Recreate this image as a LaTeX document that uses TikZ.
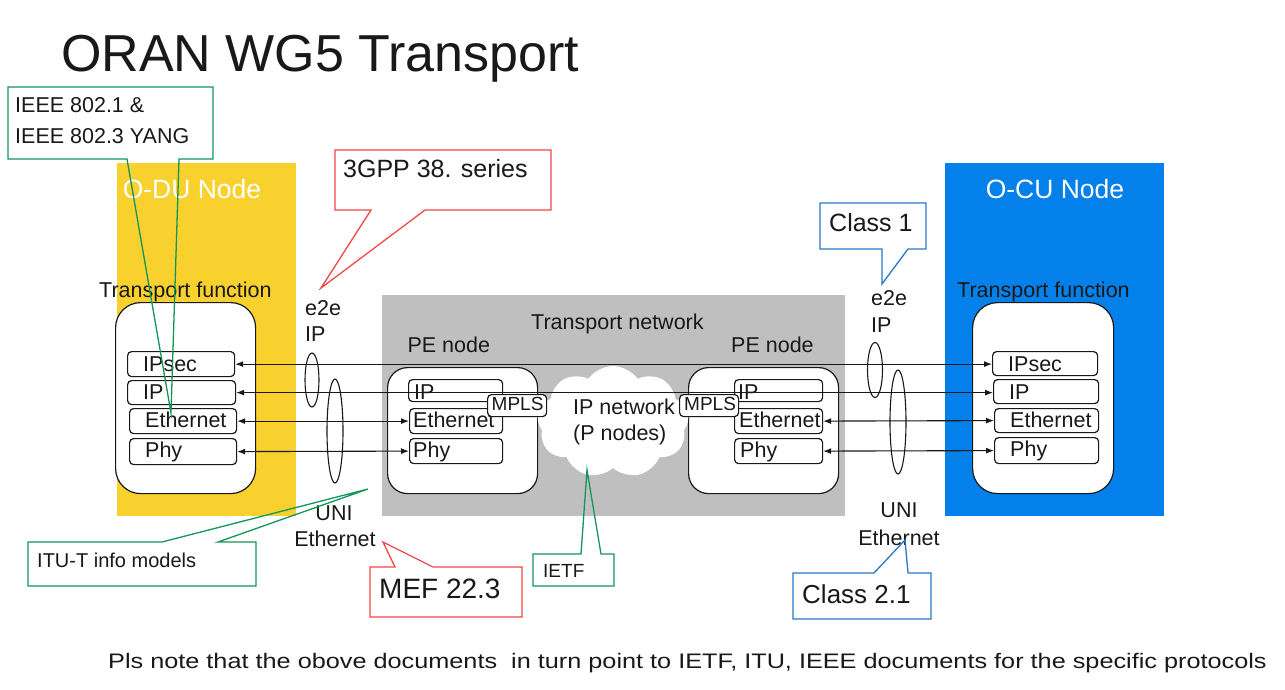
\documentclass[tikz,border=0pt]{standalone}
\usepackage{fontspec}
\setmainfont{Liberation Sans}
\usetikzlibrary{arrows.meta,shapes.symbols,shapes.geometric,calc}
\definecolor{odu}{RGB}{248,209,46}
\definecolor{ocu}{RGB}{4,128,234}
\definecolor{tgray}{RGB}{191,191,191}
\definecolor{cgreen}{RGB}{18,150,90}
\definecolor{cred}{RGB}{240,72,72}
\definecolor{cblue}{RGB}{40,120,200}
\definecolor{ink}{RGB}{25,25,25}
\tikzset{
  lbl/.style={anchor=base west, inner sep=0pt, text=ink},
  clbl/.style={anchor=base, inner sep=0pt, text=ink},
  area/.style={inner sep=0pt, anchor=north west, draw=none},
  layer/.style={draw=ink, line width=1.2pt, rounded corners=4pt, fill=white, inner sep=0pt, anchor=north west},
  bigbox/.style={draw=ink, line width=1.2pt, rounded corners=22pt, fill=white, inner sep=0pt, anchor=north west},
  arr/.style={<->, >={Latex[length=8pt,width=6pt]}, line width=1.1pt, draw=ink},
  ring/.style={ellipse, draw=ink, line width=1.1pt, inner sep=0pt},
  callg/.style={draw=cgreen, line width=1.3pt},
  callr/.style={draw=cred, line width=1.3pt},
  callb/.style={draw=cblue, line width=1.3pt},
}
\begin{document}
\begin{tikzpicture}[x=1pt,y=-1pt,font=\fontsize{21.5}{26}\selectfont]
\useasboundingbox (0,0) rectangle (1285,690);
\fill[white] (0,0) rectangle (1285,690);

% title
\node[lbl, font=\fontsize{52}{60}\selectfont] (title) at (61,72) {ORAN WG5 Transport};

% big areas
\node[area, fill=odu, minimum width=179pt, minimum height=353pt] (odu) at (117,163) {};
\node[area, fill=ocu, minimum width=219pt, minimum height=353pt] (ocu) at (945,163) {};
\node[area, fill=tgray, minimum width=463pt, minimum height=221pt] (tnet) at (382,295) {};

\node[clbl, text=white, font=\fontsize{26.5}{30}\selectfont] (odulbl) at (192,198.5) {O-DU Node};
\node[clbl, text=white, font=\fontsize{26.5}{30}\selectfont] (oculbl) at (1055,198.5) {O-CU Node};

\node[lbl] (tfl) at (99,297) {Transport function};
\node[lbl] (tfr) at (957,297) {Transport function};
\node[lbl] (tnl) at (531,329.3) {Transport network};
\node[lbl] (pell) at (407.3,352.7) {PE node};
\node[lbl] (pelr) at (731,352.7) {PE node};

% transport function boxes
\node[bigbox, rounded corners=25pt, minimum width=140pt, minimum height=191pt] (tfboxl) at (115,302) {};
\node[bigbox, rounded corners=25pt, minimum width=141pt, minimum height=191pt] (tfboxr) at (972,302) {};
% PE boxes
\node[bigbox, rounded corners=20pt, minimum width=150pt, minimum height=126pt] (pebl) at (387,367) {};
\node[bigbox, rounded corners=20pt, minimum width=150pt, minimum height=126pt] (pebr) at (688,367) {};

% left TF layers
\node[layer, minimum width=107pt, minimum height=25pt] (lipsec) at (127,351) {};
\node[layer, minimum width=108pt, minimum height=24pt] (lip) at (127,380) {};
\node[layer, minimum width=107pt, minimum height=25pt] (leth) at (129,408) {};
\node[layer, minimum width=107pt, minimum height=26pt] (lphy) at (129,438) {};
\node[lbl] (tlipsec) at (143,371) {IPsec};
\node[lbl] (tlip) at (143,399) {IP};
\node[lbl] (tleth) at (145,427.5) {Ethernet};
\node[lbl] (tlphy) at (145,457) {Phy};

% right TF layers
\node[layer, minimum width=105pt, minimum height=24pt] (ripsec) at (992,351) {};
\node[layer, minimum width=105pt, minimum height=24pt] (rip) at (993,379) {};
\node[layer, minimum width=104pt, minimum height=24pt] (reth) at (994,408) {};
\node[layer, minimum width=104pt, minimum height=26pt] (rphy) at (994,437) {};
\node[lbl] (tripsec) at (1008,371) {IPsec};
\node[lbl] (trip) at (1009,399) {IP};
\node[lbl] (treth) at (1010,427.5) {Ethernet};
\node[lbl] (trphy) at (1010,456.7) {Phy};

% PE left layers
\node[layer, minimum width=94pt, minimum height=22pt] (plip) at (408,379) {};
\node[layer, minimum width=93pt, minimum height=25pt] (pleth) at (409,408) {};
\node[layer, minimum width=93pt, minimum height=25pt] (plphy) at (409,438) {};
\node[lbl] (tplip) at (414,399) {IP};
\node[lbl] (tpleth) at (413,427.5) {Ethernet};
\node[lbl] (tplphy) at (413,457.5) {Phy};

% PE right layers
\node[layer, minimum width=88pt, minimum height=22pt] (prip) at (734,379) {};
\node[layer, minimum width=88pt, minimum height=25pt] (preth) at (734,408) {};
\node[layer, minimum width=88pt, minimum height=25pt] (prphy) at (734,438) {};
\node[lbl] (tprip) at (738,399) {IP};
\node[lbl] (tpreth) at (739,427.5) {Ethernet};
\node[lbl] (tprphy) at (740,457) {Phy};

% cloud
\node[cloud, cloud puffs=9, cloud puff arc=110, aspect=1.4, fill=white, draw=none, minimum width=152pt, minimum height=112pt, inner sep=0pt] (cloud) at (613,422) {};
\node[lbl] (ipnet) at (573,414) {IP network};
\node[lbl] (pnodes) at (573,440) {(P nodes)};

% MPLS
\node[layer, minimum width=59pt, minimum height=22pt] (mplsl) at (487,394) {};
\node[layer, minimum width=59pt, minimum height=22pt] (mplsr) at (679,394) {};
\node[lbl, font=\fontsize{19}{22}\selectfont] (tmplsl) at (491.5,410) {MPLS};
\node[lbl, font=\fontsize{19}{22}\selectfont] (tmplsr) at (684,410) {MPLS};

% arrows
\draw[arr] (lipsec.east) -- (lipsec.east -| ripsec.west);
\draw[arr] (lip.east) -- (lip.east -| rip.west);
\draw[arr] (leth.east) -- (pleth.west);
\draw[arr] (lphy.east) -- (plphy.west);
\draw[arr] (preth.east) -- (reth.west);
\draw[arr] (prphy.east) -- (rphy.west);

% ellipses
\node[ring, minimum width=14pt, minimum height=54pt] (e2eringl) at (312,380) {};
\node[ring, minimum width=16pt, minimum height=104pt] (uniringl) at (335,431) {};
\node[ring, minimum width=15pt, minimum height=55pt] (e2eringr) at (875,370) {};
\node[ring, minimum width=16pt, minimum height=104pt] (uniringr) at (898,422) {};

% e2e / UNI labels
\node[lbl] (e2el) at (305,315.7) {e2e};
\node[lbl] (ipl) at (305,341.7) {IP};
\node[lbl] (e2er) at (871,305) {e2e};
\node[lbl] (ipr) at (871,332) {IP};
\node[clbl] (unil) at (334,520) {UNI};
\node[clbl] (ethl) at (335,546.7) {Ethernet};
\node[clbl] (unir) at (899,517.7) {UNI};
\node[clbl] (ethr) at (899,545) {Ethernet};

% callouts
\coordinate (tipieee) at (171,413);
\draw[callg] (8,87) -- (213,87) -- (213,159) -- (179,159) -- (tipieee) -- (127,159) -- (8,159) -- cycle;
\node[lbl] (ieee1) at (15,112.7) {IEEE 802.1 \&};
\node[lbl] (ieee2) at (15,144) {IEEE 802.3 YANG};

\coordinate (tip3gpp) at (321,288);
\draw[callr] (335,150) -- (551,150) -- (551,210) -- (425,210) -- (tip3gpp) -- (371,210) -- (335,210) -- cycle;
\node[lbl, font=\fontsize{25}{28}\selectfont] (g3) at (343,177.7) {3GPP 38. series};

\coordinate (tipc1) at (882,284);
\draw[callb] (820,203) -- (926,203) -- (926,249) -- (908,249) -- (tipc1) -- (882,249) -- (820,249) -- cycle;
\node[lbl, font=\fontsize{25}{28}\selectfont] (c1) at (829,231.7) {Class 1};

\coordinate (tipitu) at (368,489);
\draw[callg] (28,542) -- (162,542) -- (tipitu) -- (218,542) -- (256,542) -- (256,586) -- (28,586) -- cycle;
\node[lbl, font=\fontsize{20}{24}\selectfont] (itu) at (37,567.3) {ITU-T info models};

\coordinate (tipmef) at (383,542);
\draw[callr] (370,567) -- (395,567) -- (tipmef) -- (433,567) -- (522,567) -- (522,617) -- (370,617) -- cycle;
\node[lbl, font=\fontsize{28}{32}\selectfont] (mef) at (379,598.3) {MEF 22.3};

\coordinate (tipietf) at (587,470);
\draw[callg] (533,554) -- (581,554) -- (tipietf) -- (601,554) -- (614,554) -- (614,586) -- (533,586) -- cycle;
\node[lbl, font=\fontsize{19}{22}\selectfont] (ietf) at (543,577.7) {IETF};

\coordinate (tipc21) at (905,540);
\draw[callb] (793,573) -- (874,573) -- (tipc21) -- (908,573) -- (931,573) -- (931,619) -- (793,619) -- cycle;
\node[lbl, font=\fontsize{26}{30}\selectfont] (c21) at (802,603.3) {Class 2.1};

% note
\node[lbl, font=\fontsize{21}{25}\selectfont] (note) at (108,668.3) {\scalebox{1.203}[1]{Pls note that the obove documents\ \ in turn point to IETF, ITU, IEEE documents for the specific protocols}};
\end{tikzpicture}
\end{document}
